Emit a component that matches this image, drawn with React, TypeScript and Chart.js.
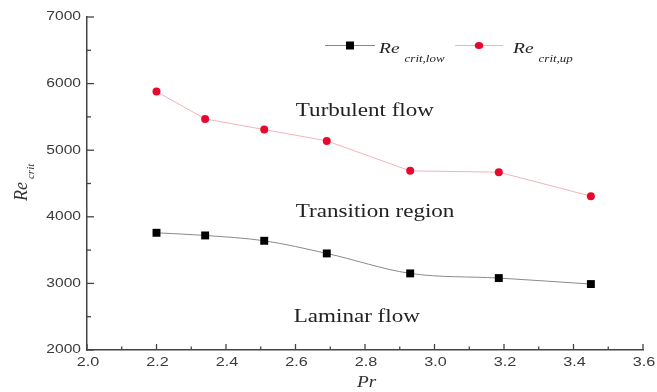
import React, { useEffect, useRef } from "react";
import { Chart, registerables } from "chart.js";

Chart.register(...registerables);

const prValues = [2.2, 2.34, 2.51, 2.69, 2.93, 3.185, 3.45];
const reLow = [3760, 3720, 3640, 3450, 3150, 3080, 2990];
const reUp = [5880, 5470, 5310, 5140, 4690, 4670, 4310];

const regionLabels = [
  { text: "Turbulent flow", x: 2.601, y: 5520 },
  { text: "Transition region", x: 2.601, y: 4000 },
  { text: "Laminar flow", x: 2.595, y: 2420 },
];

const SERIF = "'Liberation Serif', 'DejaVu Serif', serif";
const SANS = "'Liberation Sans', Arial, sans-serif";
const SX = 1.28;

function textS(ctx: CanvasRenderingContext2D, s: string, x: number, y: number, sx = SX) {
  ctx.save();
  ctx.translate(x, y);
  ctx.scale(sx, 1);
  ctx.fillText(s, 0, 0);
  const w = ctx.measureText(s).width * sx;
  ctx.restore();
  return w;
}

function drawRe(ctx: CanvasRenderingContext2D, x: number, y: number, sub: string, size: number, subSize: number, sx: number) {
  ctx.textAlign = "left";
  ctx.textBaseline = "alphabetic";
  ctx.font = `italic ${size}px ${SERIF}`;
  const w = textS(ctx, "Re", x, y, sx);
  ctx.font = `italic ${subSize}px ${SERIF}`;
  textS(ctx, sub, x + w + 5, y + size * 0.62, sx);
}

const decor = {
  id: "decor",
  afterDraw(chart: any) {
    const { ctx, chartArea } = chart;
    const xs = chart.scales.x;
    const ys = chart.scales.y;
    ctx.save();
    ctx.strokeStyle = "#444";
    ctx.lineWidth = 1.3;
    // x ticks (inward) + labels
    const xt = xs.ticks.map((t: any) => t.value);
    ctx.fillStyle = "#3a3a3a";
    ctx.font = `12px ${SANS}`;
    ctx.textBaseline = "middle";
    xt.forEach((v: number, i: number) => {
      const px = xs.getPixelForValue(v);
      ctx.beginPath();
      ctx.moveTo(px, chartArea.bottom);
      ctx.lineTo(px, chartArea.bottom - 6);
      ctx.stroke();
      const lbl = v.toFixed(1);
      const w = ctx.measureText(lbl).width * 1.35;
      ctx.textAlign = "left";
      textS(ctx, lbl, px - w / 2 + 1, 363, 1.35);
      if (i < xt.length - 1) {
        const mx = xs.getPixelForValue((v + xt[i + 1]) / 2);
        ctx.beginPath();
        ctx.moveTo(mx, chartArea.bottom);
        ctx.lineTo(mx, chartArea.bottom - 3.5);
        ctx.stroke();
      }
    });
    const yt = ys.ticks.map((t: any) => t.value);
    yt.forEach((v: number, i: number) => {
      const py = ys.getPixelForValue(v);
      ctx.beginPath();
      ctx.moveTo(chartArea.left, py);
      ctx.lineTo(chartArea.left + 7, py);
      ctx.stroke();
      const lbl = String(v);
      const w = ctx.measureText(lbl).width * 1.3;
      ctx.textAlign = "left";
      textS(ctx, lbl, chartArea.left - 6 - w, py, 1.3);
      if (i < yt.length - 1) {
        const my = ys.getPixelForValue((v + yt[i + 1]) / 2);
        ctx.beginPath();
        ctx.moveTo(chartArea.left, my);
        ctx.lineTo(chartArea.left + 4, my);
        ctx.stroke();
      }
    });

    // region labels
    ctx.fillStyle = "#222";
    ctx.font = `18px ${SERIF}`;
    ctx.textAlign = "left";
    ctx.textBaseline = "alphabetic";
    regionLabels.forEach((r) => {
      textS(ctx, r.text, xs.getPixelForValue(r.x), ys.getPixelForValue(r.y));
    });

    // legend
    const ly = 45.5;
    const ds = chart.data.datasets;
    const entries = [
      { x0: 325, x1: 375, tx: 379, sub: "crit,low", d: ds[0] },
      { x0: 455, x1: 503, tx: 513, sub: "crit,up", d: ds[1] },
    ];
    entries.forEach((e) => {
      ctx.strokeStyle = e.d.borderColor;
      ctx.lineWidth = 1;
      ctx.beginPath();
      ctx.moveTo(e.x0, ly);
      ctx.lineTo(e.x1, ly);
      ctx.stroke();
      const cx = (e.x0 + e.x1) / 2;
      ctx.fillStyle = e.d.pointBackgroundColor;
      if (e.d.pointStyle === "rect") {
        ctx.fillRect(cx - 4, ly - 4, 8, 8);
      } else {
        ctx.beginPath();
        ctx.ellipse(cx, ly, 4.2, 3.6, 0, 0, Math.PI * 2);
        ctx.fill();
      }
      ctx.fillStyle = "#222";
      drawRe(ctx, e.tx, 53, e.sub, 15, 10, 1.3);
    });

    // x title
    ctx.fillStyle = "#333";
    ctx.font = `italic 16px ${SERIF}`;
    ctx.textAlign = "left";
    ctx.textBaseline = "alphabetic";
    textS(ctx, "Pr", 357, 387, 1.2);

    // y title rotated
    ctx.save();
    ctx.translate(27, 201);
    ctx.rotate(-Math.PI / 2);
    ctx.fillStyle = "#333";
    ctx.font = `italic 18px ${SERIF}`;
    ctx.textAlign = "left";
    ctx.fillText("Re", 0, 0);
    const wRe = ctx.measureText("Re").width;
    ctx.font = `italic 11px ${SERIF}`;
    ctx.fillText("crit", wRe + 3, 7);
    ctx.restore();

    ctx.restore();
  },
};

export default function App() {
  const ref = useRef<HTMLCanvasElement>(null);
  useEffect(() => {
    document.body.style.margin = "0";
    const chart = new Chart(ref.current!, {
      type: "line",
      data: {
        datasets: [
          {
            label: "Re crit,low",
            data: prValues.map((x, i) => ({ x, y: reLow[i] })),
            borderColor: "#8a8a8a",
            borderWidth: 1,
            pointStyle: "rect",
            pointRadius: 5.6,
            pointBackgroundColor: "#000",
            pointBorderColor: "#000",
            pointBorderWidth: 0,
            cubicInterpolationMode: "monotone",
          },
          {
            label: "Re crit,up",
            data: prValues.map((x, i) => ({ x, y: reUp[i] })),
            borderColor: "#f2b3ba",
            borderWidth: 1,
            pointStyle: "circle",
            pointRadius: 4,
            pointBackgroundColor: "#e8082e",
            pointBorderColor: "#e8082e",
            pointBorderWidth: 0,
          },
        ],
      },
      options: {
        animation: false,
        responsive: false,
        layout: { padding: { top: 17, right: 14, left: 0, bottom: 0 } },
        plugins: { legend: { display: false }, tooltip: { enabled: false } },
        scales: {
          x: {
            type: "linear",
            min: 2.0,
            max: 3.6,
            ticks: { stepSize: 0.2, display: false },
            grid: { display: false },
            border: { display: true, color: "#444", width: 1.5 },
            afterFit: (s: any) => {
              s.height = 42;
            },
          },
          y: {
            type: "linear",
            min: 2000,
            max: 7000,
            ticks: { stepSize: 1000, display: false },
            grid: { display: false },
            border: { display: true, color: "#444", width: 1.5 },
            afterFit: (s: any) => {
              s.width = 87;
            },
          },
        },
      },
      plugins: [decor],
    } as any);
    return () => chart.destroy();
  }, []);
  return (
    <div style={{ position: "absolute", left: 0, top: 0, width: 657, height: 392, background: "#fff" }}>
      <canvas ref={ref} width={657} height={392} style={{ width: 657, height: 392 }} />
    </div>
  );
}
